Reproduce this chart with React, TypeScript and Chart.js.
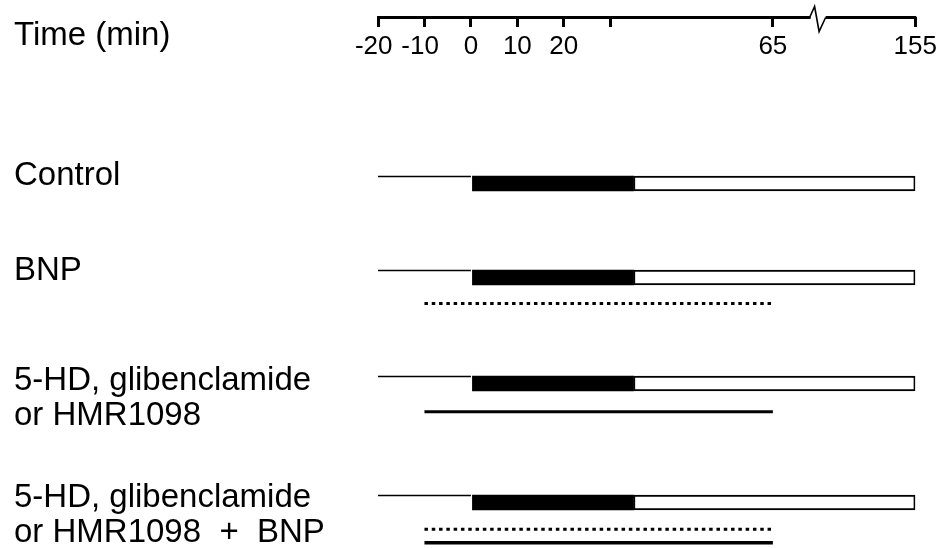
import { useEffect, useRef } from 'react';
import { Chart, registerables } from 'chart.js';

Chart.register(...registerables);

// ---- data ----
const tickMinutes = [-20, -10, 0, 10, 20, 30, 65, 155];
const tickLabels = ['-20', '-10', '0', '10', '20', '', '65', '155'];
const breakMinute = 92; // axis break between 65 and 155 min
const compressAfter = 65; // the axis is compressed after this time
const compressFactor = 0.3407;

const axisTitle = 'Time (min)';
const groupNames: (string | string[])[] = [
  'Control',
  'BNP',
  ['5-HD, glibenclamide', 'or HMR1098'],
  ['5-HD, glibenclamide', 'or HMR1098  +  BNP'],
];

// vertical lanes (y units, top = 0)
const axisLane = 0.175;
const titleLane = 0.36;
const labelLanes = [1.757, 2.71, 3.98, 5.155];
const barLanes = [1.835, 2.775, 3.835, 5.025];
const baselineLanes = [1.765, 2.705, 3.765, 4.955];
const bnpLanes = [3.035, 5.293];
const blockerLanes = [4.117, 5.427];

// protocol periods (min)
const stabilization = [-20, 0];
const ischemia = [0, 35];
const reperfusion = [35, 155];
const bnpInfusion = [-10, 65];
const blockerInfusion = [-10, 65];

const FONT = "'Liberation Sans', Arial, Helvetica, sans-serif";

const toU = (t: number) => (t <= compressAfter ? t : compressAfter + (t - compressAfter) * compressFactor);

const brokenAxis = {
  id: 'brokenAxis',
  afterDraw(chart: any) {
    const xs = chart.scales.x;
    const ys = chart.scales.y;
    const ctx = chart.ctx;
    const py = ys.getPixelForValue(axisLane);
    const x0 = xs.getPixelForValue(toU(tickMinutes[0]));
    const x1 = xs.getPixelForValue(toU(tickMinutes[tickMinutes.length - 1]));
    const xb = xs.getPixelForValue(toU(breakMinute));
    ctx.save();
    ctx.strokeStyle = '#000';
    ctx.lineCap = 'butt';
    ctx.lineWidth = 3;
    ctx.beginPath();
    ctx.moveTo(x0 - 1, py);
    ctx.lineTo(xb - 5, py);
    ctx.moveTo(xb + 10, py);
    ctx.lineTo(x1 + 1, py);
    ctx.stroke();
    ctx.lineWidth = 1.6;
    ctx.lineJoin = 'miter';
    ctx.beginPath();
    ctx.moveTo(xb - 6, py);
    ctx.lineTo(xb - 1, py - 11);
    ctx.lineTo(xb + 3.5, py + 14);
    ctx.lineTo(xb + 10, py);
    ctx.stroke();
    ctx.restore();
  },
};

const seg = (range: number[], lane: number) => [
  { x: toU(range[0]), y: lane },
  { x: toU(range[1]), y: lane },
];

// negative labels are centred on their digits: pad with a space as wide as the minus sign
const tickText = (s: string) => (s.startsWith('-') ? s + '\u2004' : s);

export default function App() {
  const ref = useRef<HTMLCanvasElement | null>(null);

  useEffect(() => {
    document.body.style.margin = '0';
    const canvas = ref.current;
    if (!canvas) return;

    const lineBase = { type: 'line' as const, pointRadius: 0, borderColor: '#000', borderCapStyle: 'butt', tension: 0, fill: false };

    const datasets: any[] = [
      ...baselineLanes.map((l) => ({ ...lineBase, label: 'stabilization', data: seg(stabilization, l), borderWidth: 1.5 })),
      ...bnpLanes.map((l) => ({ ...lineBase, label: 'BNP', data: seg(bnpInfusion, l), borderWidth: 3, borderDash: [3.5, 3.8] })),
      ...blockerLanes.map((l, i) => ({ ...lineBase, label: 'blocker', data: seg(blockerInfusion, l), borderWidth: i === 1 ? 3.5 : 3 })),
      {
        type: 'bar',
        label: 'ischemia',
        indexAxis: 'y',
        grouped: false,
        barThickness: 15,
        data: barLanes.map((l) => ({ x: [toU(ischemia[0]), toU(ischemia[1])], y: l })),
        backgroundColor: '#000',
        borderWidth: 0,
      },
      {
        type: 'bar',
        label: 'reperfusion',
        indexAxis: 'y',
        grouped: false,
        barThickness: 15,
        data: barLanes.map((l) => ({ x: [toU(reperfusion[0]), toU(reperfusion[1])], y: l })),
        backgroundColor: '#fff',
        borderColor: '#000',
        borderWidth: 2,
        borderSkipped: false,
      },
    ];

    const yLabels = [axisTitle, ...groupNames];
    const yTicks = [titleLane, ...labelLanes];

    const chart = new Chart(canvas, {
      type: 'line',
      data: { datasets },
      options: {
        animation: false,
        responsive: false,
        events: [],
        layout: { padding: { left: 14, right: 25.5, top: 0, bottom: 0 } },
        plugins: { legend: { display: false }, tooltip: { enabled: false } },
        scales: {
          x: {
            type: 'linear',
            position: { y: axisLane } as any,
            min: toU(tickMinutes[0]),
            max: toU(tickMinutes[tickMinutes.length - 1]),
            offset: false,
            afterBuildTicks: (s: any) => {
              s.ticks = tickMinutes.map((t) => ({ value: toU(t) }));
            },
            grid: {
              display: true,
              drawOnChartArea: false,
              drawTicks: true,
              tickLength: 10,
              color: '#000',
              lineWidth: 3,
              tickWidth: 3,
              offset: false,
            },
            border: { display: false },
            ticks: {
              autoSkip: false,
              maxRotation: 0,
              minRotation: 0,
              padding: 4,
              color: '#000',
              font: { family: FONT, size: 26 },
              callback: (_v: any, i: number) => tickText(tickLabels[i]),
            },
          },
          y: {
            type: 'linear',
            position: 'left',
            min: 0,
            max: 5.48,
            reverse: true,
            offset: false,
            afterBuildTicks: (s: any) => {
              s.ticks = yTicks.map((v) => ({ value: v }));
            },
            afterFit: (s: any) => {
              s.width = 364;
              s.paddingTop = 0;
              s.paddingBottom = 0;
            },
            grid: { display: false, drawTicks: false },
            border: { display: false },
            ticks: {
              autoSkip: false,
              crossAlign: 'far',
              padding: 0,
              color: '#000',
              font: { family: FONT, size: 33, lineHeight: '35px' },
              callback: (_v: any, i: number) => yLabels[i],
            },
          },
        },
      },
      plugins: [brokenAxis],
    } as any);

    return () => chart.destroy();
  }, []);

  return <canvas ref={ref} width={941} height={548} style={{ display: 'block' }} />;
}
